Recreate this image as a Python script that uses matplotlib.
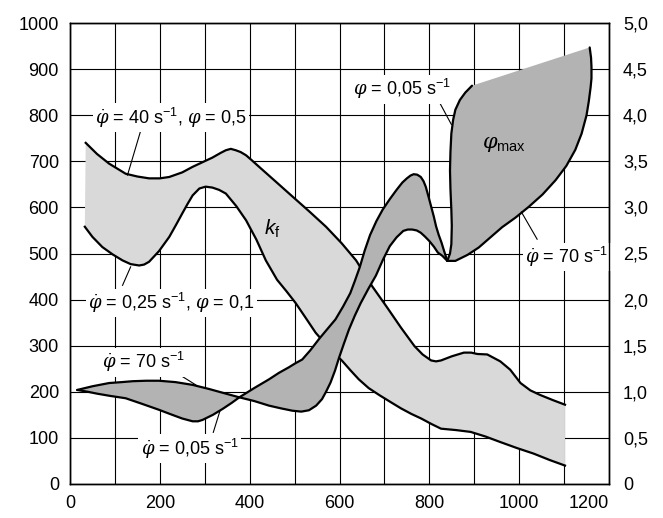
import matplotlib
matplotlib.use("Agg")
import matplotlib.pyplot as plt
import numpy as np

plt.rcParams['font.family'] = ['Liberation Sans', 'DejaVu Sans']
plt.rcParams['mathtext.fontset'] = 'custom'
plt.rcParams['mathtext.rm'] = 'Liberation Sans'
plt.rcParams['mathtext.it'] = 'DejaVu Serif:italic'
plt.rcParams['mathtext.sf'] = 'Liberation Sans:italic'

# ---- data (left-axis units; right axis = left / 200) ----
kf_upper_x = [35, 60, 87, 124, 150, 176, 200, 221, 250, 273, 295, 317, 335, 347, 358, 369, 380, 392, 405, 421, 458, 496, 533, 570, 605, 637, 672, 706, 737, 767, 785, 804, 815, 826, 850, 877, 893, 907, 929, 958, 980, 1003, 1025, 1047, 1075, 1102]
kf_upper_y = [740, 716, 695, 673, 667, 663, 663, 666, 676, 688, 698, 708, 718, 724, 727, 724, 720, 713, 702, 688, 656, 623, 591, 558, 522, 485, 430, 383, 339, 299, 281, 268, 266, 268, 277, 285, 285, 282, 281, 266, 248, 219, 203, 193, 182, 172]

kf_lower_x = [33, 50, 72, 95, 117, 135, 154, 165, 176, 198, 221, 236, 250, 262, 273, 288, 302, 317, 332, 347, 370, 392, 415, 436, 461, 482, 502, 525, 547, 575, 606, 625, 643, 665, 690, 715, 737, 760, 782, 805, 826, 859, 892, 925, 958, 995, 1032, 1068, 1102]
kf_lower_y = [558, 536, 514, 498, 485, 477, 474, 476, 482, 505, 536, 562, 587, 608, 626, 641, 645, 643, 638, 630, 603, 572, 530, 485, 443, 418, 393, 360, 328, 297, 267, 246, 227, 208, 192, 177, 164, 152, 142, 130, 120, 117, 113, 103, 91, 78, 66, 52, 40]

phi70_x = [16, 50, 87, 115, 140, 170, 198, 235, 273, 310, 347, 377, 410, 443, 470, 495, 515, 532, 548, 561, 570, 580, 590, 599, 610, 621, 634, 647, 664, 681, 697, 712, 727, 742, 752, 762, 772, 781, 790, 800, 810, 819, 829, 840]
phi70_y = [204, 212, 219, 221, 223, 224, 224, 221, 215, 206, 196, 188, 180, 170, 164, 159, 157, 160, 170, 184, 200, 220, 246, 274, 305, 335, 365, 392, 423, 452, 487, 516, 535, 549, 552, 552, 550, 545, 537, 527, 515, 502, 495, 484]

phi005_x = [16, 40, 60, 90, 124, 160, 198, 225, 250, 273, 285, 295, 318, 340, 360, 377, 410, 443, 465, 487, 502, 517, 535, 554, 572, 591, 608, 624, 634, 645, 656, 668, 682, 696, 712, 727, 740, 750, 758, 765, 773, 781, 787, 792, 798, 804, 810, 815, 821, 827, 833, 840]
phi005_y = [204, 200, 196, 191, 186, 174, 161, 151, 142, 136, 136, 139, 150, 163, 176, 188, 208, 227, 241, 253, 262, 270, 290, 314, 335, 357, 385, 414, 440, 470, 506, 540, 570, 595, 618, 638, 654, 663, 669, 672, 671, 666, 657, 645, 624, 602, 580, 559, 540, 524, 505, 484]

blob_left_x = [840, 846, 849, 850, 849, 847, 846, 847, 849, 853, 858, 868, 880, 895]
blob_left_y = [484, 500, 520, 560, 595, 640, 680, 720, 760, 790, 812, 833, 849, 864]

blob_right_x = [1157, 1160, 1161, 1161, 1159, 1155, 1150, 1139, 1125, 1105, 1081, 1052, 1021, 992, 962, 936, 910, 885, 858, 840]
blob_right_y = [947, 925, 905, 880, 860, 830, 800, 760, 725, 690, 659, 628, 601, 578, 557, 535, 513, 497, 484, 484]

x_ticks = [0, 200, 400, 600, 800, 1000, 1200]
y_ticks = [0, 100, 200, 300, 400, 500, 600, 700, 800, 900, 1000]
y2_ticks = [0, 0.5, 1.0, 1.5, 2.0, 2.5, 3.0, 3.5, 4.0, 4.5, 5.0]
y2_labels = ['0', '0,5', '1,0', '1,5', '2,0', '2,5', '3,0', '3,5', '4,0', '4,5', '5,0']

labels = [r'$\dot{\varphi}$ = 40 s$^{-1}$, $\varphi$ = 0,5',
          r'$\dot{\varphi}$ = 0,25 s$^{-1}$, $\varphi$ = 0,1',
          r'$\dot{\varphi}$ = 70 s$^{-1}$',
          r'$\dot{\varphi}$ = 0,05 s$^{-1}$',
          r'$\varphi$ = 0,05 s$^{-1}$',
          r'$\dot{\varphi}$ = 70 s$^{-1}$']
label_pos = [(56, 795), (40, 393), (72, 264), (157, 77), (631, 856), (1014, 493)]
leaders = [((160, 775), (128, 670)), ((135, 471), (117, 431)), ((224, 249), (280, 215)),
           ((319, 112), (334, 159)), ((817, 838), (849, 780)), ((1005, 590), (1040, 531))]

LIGHT = '#d9d9d9'
DARK = '#b3b3b3'

fig = plt.figure(figsize=(6.63, 5.18), dpi=100)
ax = fig.add_axes([70/663, 34/518, 539/663, 461/518])
ax.set_xlim(0, 1200)
ax.set_ylim(0, 1000)
ax.set_xticks(x_ticks)
ax.set_xticks(np.arange(0, 1201, 100), minor=True)
ax.set_yticks(y_ticks)
ax.grid(True, which='both', axis='x', color='black', lw=0.8)
ax.grid(True, which='major', axis='y', color='black', lw=0.8)
ax.set_axisbelow(True)
ax.tick_params(which='both', length=0, labelsize=13)
ax.tick_params(axis='y', pad=8)
ax.tick_params(axis='x', pad=8)
for s in ax.spines.values():
    s.set_linewidth(1.0)

# kf band
ax.fill(kf_upper_x + kf_lower_x[::-1], kf_upper_y + kf_lower_y[::-1], color=LIGHT, lw=0, zorder=2)
ax.plot(kf_upper_x, kf_upper_y, color='black', lw=1.6, zorder=2.1, solid_joinstyle='round')
ax.plot(kf_lower_x, kf_lower_y, color='black', lw=1.6, zorder=2.1, solid_joinstyle='round')

# phi_max band
ax.fill(phi70_x + phi005_x[::-1], phi70_y + phi005_y[::-1], color=DARK, lw=0, zorder=2.2)
ax.fill(blob_left_x + blob_right_x, blob_left_y + blob_right_y, color=DARK, lw=0, zorder=2.2)
for xs, ys in [(phi70_x, phi70_y), (phi005_x, phi005_y), (blob_left_x, blob_left_y), (blob_right_x, blob_right_y)]:
    ax.plot(xs, ys, color='black', lw=1.6, zorder=2.3, solid_joinstyle='round', solid_capstyle='round')

# labels & leaders
for (p, q) in leaders:
    ax.plot([p[0], q[0]], [p[1], q[1]], color='black', lw=0.8, zorder=2.4)
for t, (x, y) in zip(labels, label_pos):
    ax.text(x, y, t, fontsize=13, ha='left', va='center', zorder=3,
            bbox=dict(facecolor='white', edgecolor='none', pad=1.5))
ax.text(451, 554, r'$\mathsf{k}_{\mathrm{f}}$', fontsize=15, ha='center', va='center', zorder=3)
ax.text(967, 736, r'$\varphi_{\mathrm{max}}$', fontsize=15, ha='center', va='center', zorder=3)

ax.set_xticklabels([str(v) for v in x_ticks])
ax.get_xticklabels()[-1].set_horizontalalignment('right')

ax2 = ax.twinx()
ax2.set_ylim(0, 5)
ax2.set_yticks(y2_ticks)
ax2.set_yticklabels(y2_labels)
ax2.tick_params(length=0, labelsize=13, pad=10)
for s in ax2.spines.values():
    s.set_linewidth(1.0)

fig.savefig('out.png', dpi=100)
